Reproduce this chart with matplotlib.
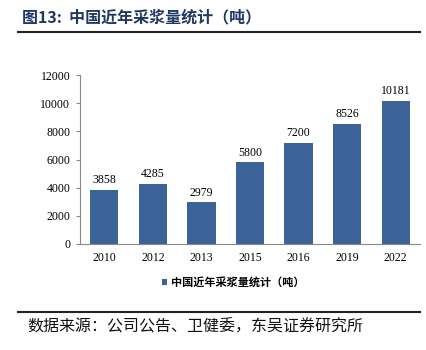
import matplotlib
matplotlib.use('Agg')
import matplotlib.pyplot as plt
from matplotlib.lines import Line2D

years = ['2010', '2012', '2013', '2015', '2016', '2019', '2022']
volumes = [3858, 4285, 2979, 5800, 7200, 8526, 10181]
yticks = [0, 2000, 4000, 6000, 8000, 10000, 12000]

bar_color = '#3C6399'
title_color = '#1F3864'
cjk = ['Noto Sans CJK SC', 'DejaVu Sans']
serif = ['Liberation Serif', 'DejaVu Serif']

fig = plt.figure(figsize=(4.27, 3.5), dpi=100)
ax = fig.add_axes([80 / 427, 1 - 244 / 350, 340 / 427, 169 / 350])

x = range(len(years))
ax.bar(x, volumes, width=0.58, color=bar_color, label='中国近年采浆量统计（吨）')
for i, v in zip(x, volumes):
    ax.text(i, v + 250, str(v), ha='center', va='bottom', fontsize=8.5, family=serif)

ax.set_xlim(-0.5, len(years) - 0.5)
ax.set_ylim(0, 12000)
ax.set_yticks(yticks)
ax.set_yticklabels([str(t) for t in yticks], family=serif, fontsize=8.5)
ax.set_xticks(list(x))
ax.set_xticklabels(years, family=serif, fontsize=8.5)
ax.tick_params(axis='y', length=3, width=0.8, color='#888888', pad=4)
ax.tick_params(axis='x', length=0, pad=6)
for s in ['top', 'right']:
    ax.spines[s].set_visible(False)
for s in ['left', 'bottom']:
    ax.spines[s].set_color('#888888')
    ax.spines[s].set_linewidth(0.8)

leg = ax.legend(loc='upper center', bbox_to_anchor=(0.45, -0.13), frameon=False,
                prop={'family': cjk, 'size': 8, 'weight': 'bold'},
                handlelength=0.5, handleheight=0.5, handletextpad=0.3)

fig.text(22 / 427, 1 - 17 / 350, '图13:  中国近年采浆量统计（吨）', color=title_color,
         fontsize=11.5, weight='bold', family=cjk, va='center', ha='left')
fig.add_artist(Line2D([18 / 427, 420 / 427], [1 - 32 / 350] * 2, color='#222222', lw=1.5))
fig.add_artist(Line2D([18 / 427, 420 / 427], [1 - 312 / 350] * 2, color='#222222', lw=1.5))
fig.text(27 / 427, 1 - 327 / 350, '数据来源：公司公告、卫健委，东吴证券研究所', color='#111111',
         fontsize=11.5, family=cjk, va='center', ha='left')

fig.savefig('out.png', dpi=100)
